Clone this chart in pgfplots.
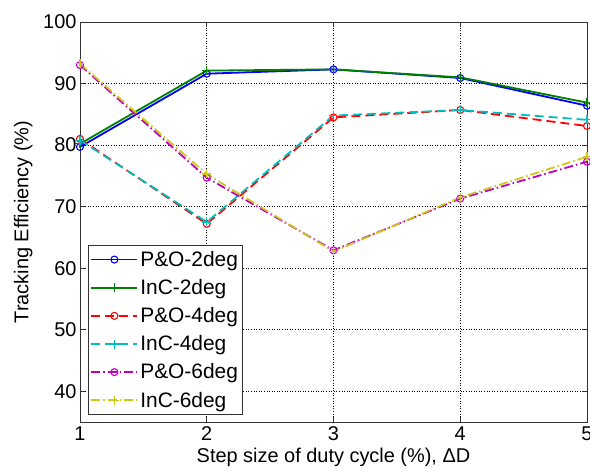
\documentclass[border=0pt]{standalone}
\usepackage{pgfplots}
\pgfplotsset{compat=1.18}
\usepackage{fontspec}
\setmainfont{Liberation Sans}
\definecolor{mgreen}{rgb}{0,0.5,0}
\definecolor{mcyan}{rgb}{0,0.75,0.75}
\definecolor{mmag}{rgb}{0.75,0,0.75}
\definecolor{myel}{rgb}{0.8,0.78,0.1}
\begin{document}
\begin{tikzpicture}
\begin{axis}[
  scale only axis,
  width=507bp, height=400bp,
  xmin=1, xmax=5, ymin=35, ymax=100,
  xtick={1,2,3,4,5}, ytick={40,50,60,70,80,90,100},
  tick align=inside,
  major tick length=5bp,
  grid=major,
  major grid style={black, line width=0.6pt, dotted},
  axis line style={black!80, line width=0.8pt},
  every tick/.style={black!80, line width=0.8pt},
  tick label style={font=\fontsize{20}{22}\selectfont},
  xticklabel style={yshift=-1bp},
  label style={font=\fontsize{20}{22}\selectfont},
  /pgf/number format/assume math mode=true,
  xlabel={Step size of duty cycle (\%), ΔD},
  ylabel={Tracking Efficiency (\%)},
  xlabel style={yshift=-1bp},
  ylabel style={yshift=4bp},
  legend style={at={(0.016,0.0175)}, anchor=south west,
    font=\fontsize{21}{23}\selectfont, draw=black!80, line width=0.8pt,
    row sep=7.5bp, inner sep=2bp, inner ysep=4bp},
  legend cell align=left,
  legend image code/.code={
    \draw[mark repeat=2,mark phase=2] plot coordinates {(0bp,0bp) (23bp,0bp) (46bp,0bp)};},
]
\addplot[blue, line width=1.8bp, mark=o, mark size=3.5bp, mark options={solid, line width=1.1bp}]
  coordinates {(1,79.7) (2,91.6) (3,92.3) (4,90.9) (5,86.4)};
\addlegendentry{P\&O-2deg}
\addplot[mgreen, line width=1.8bp, mark=+, mark size=4.5bp, mark options={solid, line width=1.1bp}]
  coordinates {(1,80.2) (2,92.1) (3,92.3) (4,91.0) (5,86.9)};
\addlegendentry{InC-2deg}
\addplot[red, line width=1.8bp, dash pattern=on 9bp off 5bp, mark=o, mark size=3.5bp, mark options={solid, line width=1.1bp}]
  coordinates {(1,81.0) (2,67.2) (3,84.5) (4,85.7) (5,83.1)};
\addlegendentry{P\&O-4deg}
\addplot[mcyan, line width=1.8bp, dash pattern=on 9bp off 5bp, mark=+, mark size=4.5bp, mark options={solid, line width=1.1bp}]
  coordinates {(1,80.8) (2,67.5) (3,84.8) (4,85.7) (5,84.1)};
\addlegendentry{InC-4deg}
\addplot[mmag, line width=1.8bp, dash pattern=on 9bp off 3bp on 1.5bp off 3bp, mark=o, mark size=3.5bp, mark options={solid, line width=1.1bp}]
  coordinates {(1,93.0) (2,74.7) (3,62.9) (4,71.3) (5,77.3)};
\addlegendentry{P\&O-6deg}
\addplot[myel, line width=1.8bp, dash pattern=on 9bp off 3bp on 1.5bp off 3bp, mark=+, mark size=4.5bp, mark options={solid, line width=1.1bp}]
  coordinates {(1,93.2) (2,75.3) (3,62.7) (4,71.5) (5,78.1)};
\addlegendentry{InC-6deg}
\end{axis}
\pgfresetboundingbox
\path[use as bounding box] ([xshift=-80bp,yshift=-54bp]current axis.south west) rectangle ([xshift=3bp,yshift=22bp]current axis.north east);
\end{tikzpicture}
\end{document}
